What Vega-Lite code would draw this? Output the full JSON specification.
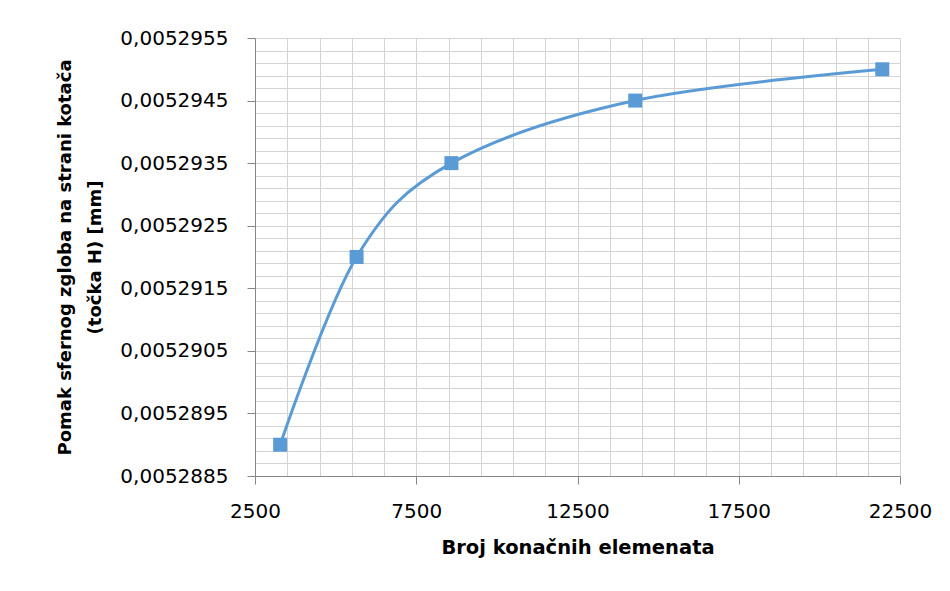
{
  "$schema": "https://vega.github.io/schema/vega-lite/v6.json",
  "width": 645,
  "height": 438,
  "autosize": "none",
  "padding": {"left": 255, "top": 38, "right": 50, "bottom": 115},
  "background": "white",
  "config": {
    "view": {"stroke": null},
    "axis": {
      "labelFont": "DejaVu Sans",
      "labelFontSize": 20,
      "labelColor": "#000000",
      "titleFont": "DejaVu Sans",
      "titleFontSize": 18,
      "titleFontWeight": "bold",
      "titleColor": "#000000",
      "gridColor": "#d4d4d4",
      "gridWidth": 1,
      "domainColor": "#868686",
      "domainWidth": 1,
      "tickColor": "#868686",
      "tickSize": 8
    }
  },
  "data": {
    "values": [
      {"n": 3280, "d": 0.005289},
      {"n": 5650, "d": 0.005292},
      {"n": 8590, "d": 0.0052935},
      {"n": 14290, "d": 0.0052945},
      {"n": 21950, "d": 0.005295}
    ]
  },
  "encoding": {
    "x": {
      "field": "n",
      "type": "quantitative",
      "scale": {"domain": [2500, 22500], "nice": false, "zero": false},
      "axis": {
        "title": "Broj konačnih elemenata",
        "titleFontSize": 19.5,
        "titlePadding": 17,
        "values": [2500, 3500, 4500, 5500, 6500, 7500, 8500, 9500, 10500, 11500, 12500, 13500, 14500, 15500, 16500, 17500, 18500, 19500, 20500, 21500, 22500],
        "format": "d",
        "labelExpr": "(datum.value - 2500) % 5000 == 0 ? datum.label : ''",
        "tickOpacity": {"condition": {"test": "(datum.value - 2500) % 5000 == 0", "value": 1}, "value": 0},
        "labelPadding": 17,
        "labelFlush": false,
        "labelOverlap": false
      }
    },
    "y": {
      "field": "d",
      "type": "quantitative",
      "scale": {"domain": [0.0052885, 0.0052955], "nice": false, "zero": false},
      "axis": {
        "title": ["Pomak sfernog zgloba na strani kotača", "(točka H) [mm]"],
        "titleLineHeight": 30,
        "titlePadding": 15,
        "values": [0.0052885, 0.0052887, 0.0052889, 0.0052891, 0.0052893, 0.0052895, 0.0052897, 0.0052899, 0.0052901, 0.0052903, 0.0052905, 0.0052907, 0.0052909, 0.0052911, 0.0052913, 0.0052915, 0.0052917, 0.0052919, 0.0052921, 0.0052923, 0.0052925, 0.0052927, 0.0052929, 0.0052931, 0.0052933, 0.0052935, 0.0052937, 0.0052939, 0.0052941, 0.0052943, 0.0052945, 0.0052947, 0.0052949, 0.0052951, 0.0052953, 0.0052955],
        "labelExpr": "round((datum.value - 0.0052885) * 10000000) % 10 == 0 ? replace(format(datum.value, '.7f'), '.', ',') : ''",
        "tickOpacity": {"condition": {"test": "round((datum.value - 0.0052885) * 10000000) % 10 == 0", "value": 1}, "value": 0},
        "labelPadding": 19,
        "labelFlush": false,
        "labelOverlap": false
      }
    }
  },
  "layer": [
    {
      "mark": {"type": "line", "interpolate": "cardinal", "color": "#5B9BD5", "strokeWidth": 3}
    },
    {
      "mark": {"type": "point", "shape": "square", "filled": true, "size": 196, "color": "#5B9BD5", "opacity": 1}
    }
  ]
}
